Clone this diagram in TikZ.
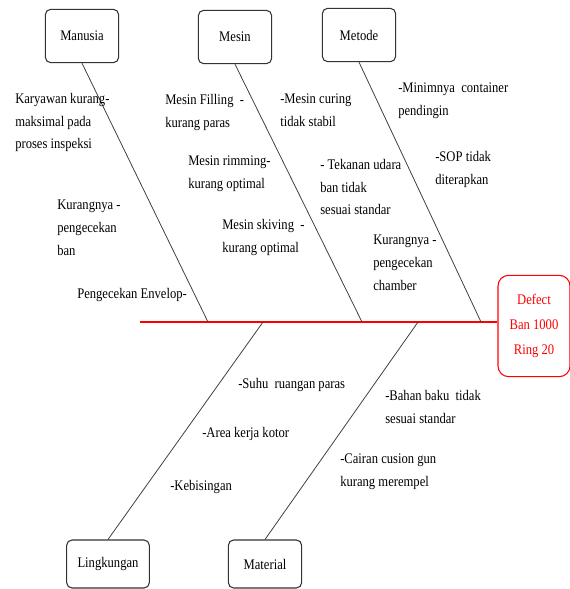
\documentclass[tikz,border=0pt]{standalone}
\usepackage{fontspec}
\setmainfont{Liberation Serif}[FakeStretch=0.86]
\usetikzlibrary{positioning, calc}
\tikzset{
    catbox/.style={draw, rounded corners=4pt, thick, draw=black!80,
                   minimum width=55pt, minimum height=40pt, font=\fontsize{11}{12}\selectfont},
    effectbox/.style={draw=red, rounded corners=8pt, thick, text=red,
                   minimum width=54pt, minimum height=76pt, align=center,
                   font=\fontsize{11}{18.5}\selectfont},
    cause/.style={anchor=north west, inner sep=0pt, align=left,
                  font=\fontsize{11}{17}\selectfont},
    bone/.style={-, draw=black!75, semithick},
    spine/.style={-, draw=red, line width=1.6pt},
}
\begin{document}
\begin{tikzpicture}[x=0.75pt, y=-0.75pt]
    \useasboundingbox (0,0) rectangle (570,589);
    % category boxes
    \node[catbox] (manusia) at (82,36) {Manusia};
    \node[catbox] (mesin) at (235,37) {Mesin};
    \node[catbox] (metode) at (359,35) {Metode};
    \node[catbox, minimum width=62pt, minimum height=36pt] (lingkungan) at (108,564) {Lingkungan};
    \node[catbox, minimum height=36pt] (material) at (265,564) {Material};
    \node[effectbox] (defect) at (534,326) {Defect\\Ban 1000\\Ring 20};
    % spine points
    \coordinate (tail) at (140,322);
    \coordinate (p1) at (208,322);
    \coordinate (p2) at (362,322);
    \coordinate (p3) at (481,322);
    \coordinate (q1) at (263,322);
    \coordinate (q2) at (418,322);
    \draw[spine] (tail) -- (tail -| defect.west);
    % bones
    \draw[bone] (manusia.south) -- (p1);
    \draw[bone] (mesin.south) -- (p2);
    \draw[bone] (metode.south) -- (p3);
    \draw[bone] (q1) -- (lingkungan.north);
    \draw[bone] (q2) -- (material.north);
    % causes - Manusia
    \node[cause] (c1) at (15,93) {Karyawan kurang-\\maksimal pada\\proses inspeksi};
    \node[cause] (c2) at (57,200) {Kurangnya -\\pengecekan\\ban};
    \node[cause] (c3) at (77,288) {Pengecekan Envelop-};
    % causes - Mesin
    \node[cause] (c4) at (165,94) {Mesin Filling\ \ -\\kurang paras};
    \node[cause] (c5) at (188,156) {Mesin rimming-\\kurang optimal};
    \node[cause] (c6) at (222,219) {Mesin skiving\ \ -\\kurang optimal};
    \node[cause] (c7) at (280,94) {-Mesin curing\\tidak stabil};
    \node[cause] (c8) at (320,159) {- Tekanan udara\\ban tidak\\sesuai standar};
    % causes - Metode
    \node[cause] (c9) at (373,235) {Kurangnya -\\pengecekan\\chamber};
    \node[cause] (c10) at (398,83) {-Minimnya\ \ container\\pendingin};
    \node[cause] (c11) at (435,151) {-SOP tidak\\diterapkan};
    % causes - Lingkungan
    \node[cause] (c12) at (238,378) {-Suhu\ \ ruangan paras};
    \node[cause] (c13) at (202,427) {-Area kerja kotor};
    \node[cause] (c14) at (170,480) {-Kebisingan};
    % causes - Material
    \node[cause] (c15) at (385,390) {-Bahan baku\ \ tidak\\sesuai standar};
    \node[cause] (c16) at (340,454) {-Cairan cusion gun\\kurang merempel};
\end{tikzpicture}
\end{document}
